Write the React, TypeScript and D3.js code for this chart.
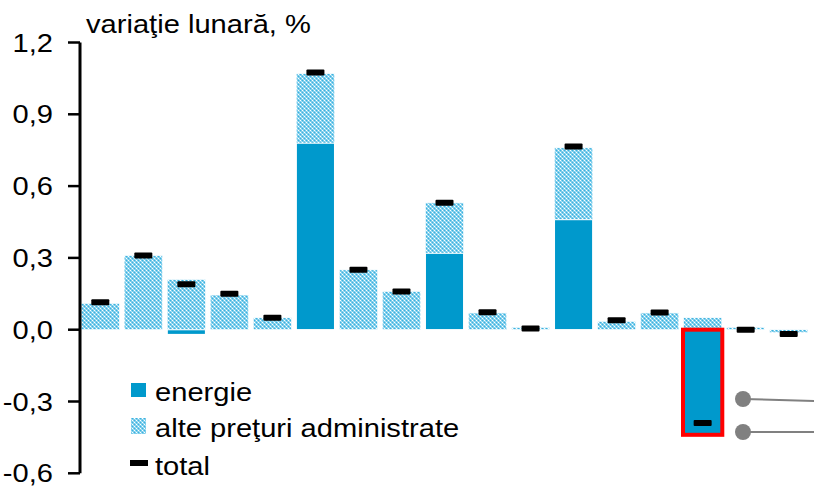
import React from "react";
import * as d3 from "d3";

const categories = ["1", "2", "3", "4", "5", "6", "7", "8", "9", "10", "11", "12", "13", "14", "15", "16", "17"];
const energie = [0, 0, -0.02, 0, 0, 0.78, 0, 0, 0.32, 0, 0, 0.46, 0, 0, -0.435, 0, 0];
const altePreturi = [0.11, 0.31, 0.21, 0.145, 0.05, 0.29, 0.25, 0.16, 0.21, 0.07, 0.01, 0.3, 0.035, 0.07, 0.05, 0.01, -0.012];
const total = [0.115, 0.31, 0.19, 0.15, 0.05, 1.075, 0.25, 0.16, 0.53, 0.073, 0.005, 0.765, 0.04, 0.072, -0.39, 0.0, -0.018];
const yTicks = [1.2, 0.9, 0.6, 0.3, 0.0, -0.3, -0.6];
const highlighted = [14];

const W = 814;
const H = 487;
const FONT = "'Liberation Sans', Arial, sans-serif";
const ENERGY = "#0099cc";
const SX = 1.12;
const FS = 26;

function T(props: { x: number; y: number; anchor?: string; children: React.ReactNode }) {
  return (
    <text
      transform={`translate(${props.x},${props.y}) scale(${SX},1)`}
      textAnchor={props.anchor || "start"}
      fontSize={FS}
      fill="#000"
    >
      {props.children}
    </text>
  );
}

export default function App() {
  const x = d3
    .scaleBand<string>()
    .domain(categories)
    .range([79, 810])
    .paddingInner(0.11)
    .paddingOuter(0.05);
  const y = d3.scaleLinear().domain([-0.6, 1.2]).range([473.3, 42.5]);
  const bw = x.bandwidth();
  const fmt = (v: number) => v.toFixed(1).replace(".", ",");

  const segs: { x: number; y0: number; y1: number; kind: string }[] = [];
  categories.forEach((c, i) => {
    const e = energie[i];
    const o = altePreturi[i];
    let pos = 0;
    let neg = 0;
    if (e !== 0) {
      segs.push({ x: x(c)!, y0: 0, y1: e, kind: "e" });
      if (e > 0) pos = e;
      else neg = e;
    }
    if (o !== 0) {
      if (o > 0) segs.push({ x: x(c)!, y0: pos, y1: pos + o, kind: "o" });
      else segs.push({ x: x(c)!, y0: neg, y1: neg + o, kind: "o" });
    }
  });

  return (
    <svg
      width={W}
      height={H}
      style={{ position: "absolute", left: 0, top: 0, background: "#fff" }}
      fontFamily={FONT}
    >
      <defs>
        <pattern id="chk" width="4" height="4" patternUnits="userSpaceOnUse">
          <rect width="4" height="4" fill="#7dcdeb" />
          <rect x="0" y="0" width="1" height="1" fill="#ffffff" />
          <rect x="2" y="2" width="1" height="1" fill="#ffffff" />
          <rect x="2" y="0" width="1" height="1" fill="#3ab1e0" />
          <rect x="0" y="2" width="1" height="1" fill="#3ab1e0" />
          <rect x="1" y="1" width="1" height="1" fill="#b3e3f4" />
          <rect x="3" y="3" width="1" height="1" fill="#b3e3f4" />
        </pattern>
      </defs>

      {segs.map((s, i) => {
        const ya = y(Math.max(s.y0, s.y1));
        const yb = y(Math.min(s.y0, s.y1));
        return (
          <rect
            key={i}
            x={s.x}
            y={ya}
            width={bw}
            height={Math.max(0.5, yb - ya)}
            fill={s.kind === "e" ? ENERGY : "url(#chk)"}
            stroke="#fff"
            strokeWidth={s.kind === "e" ? 1.2 : 0.6}
          />
        );
      })}

      {highlighted.map((i) => {
        const c = categories[i];
        const top = y(0);
        const bot = y(energie[i]);
        return (
          <rect
            key={"h" + i}
            x={x(c)! - 0.5}
            y={top}
            width={bw + 1}
            height={bot - top + 1}
            fill="none"
            stroke="#ff0000"
            strokeWidth={4}
          />
        );
      })}

      {categories.map((c, i) => (
        <rect
          key={"t" + i}
          x={x(c)! + bw / 2 - 9}
          y={y(total[i]) - 3}
          width={18}
          height={6}
          rx={1}
          fill="#000"
        />
      ))}

      {/* y axis */}
      <line x1={80} x2={80} y1={y(1.2)} y2={y(-0.6)} stroke="#000" strokeWidth={3} />
      {yTicks.map((t) => (
        <g key={t}>
          <line x1={68} x2={80} y1={y(t)} y2={y(t)} stroke="#000" strokeWidth={2.5} />
          <T x={53} y={y(t) + 9} anchor="end">
            {fmt(t)}
          </T>
        </g>
      ))}

      <T x={86} y={33}>variaţie lunară, %</T>

      {/* legend */}
      <rect x={131} y={383} width={15} height={14} fill={ENERGY} />
      <T x={155} y={401}>energie</T>
      <rect x={131} y={418} width={15} height={16} fill="url(#chk)" />
      <T x={155} y={437}>alte preţuri administrate</T>
      <rect x={130} y={460} width={18} height={6} fill="#000" />
      <T x={155} y={475}>total</T>

      {/* grey connectors */}
      <line x1={743} y1={399} x2={814} y2={401} stroke="#808080" strokeWidth={2} />
      <circle cx={743} cy={399} r={8} fill="#808080" />
      <line x1={743} y1={432} x2={814} y2={432} stroke="#808080" strokeWidth={2} />
      <circle cx={743} cy={432} r={8} fill="#808080" />
    </svg>
  );
}
